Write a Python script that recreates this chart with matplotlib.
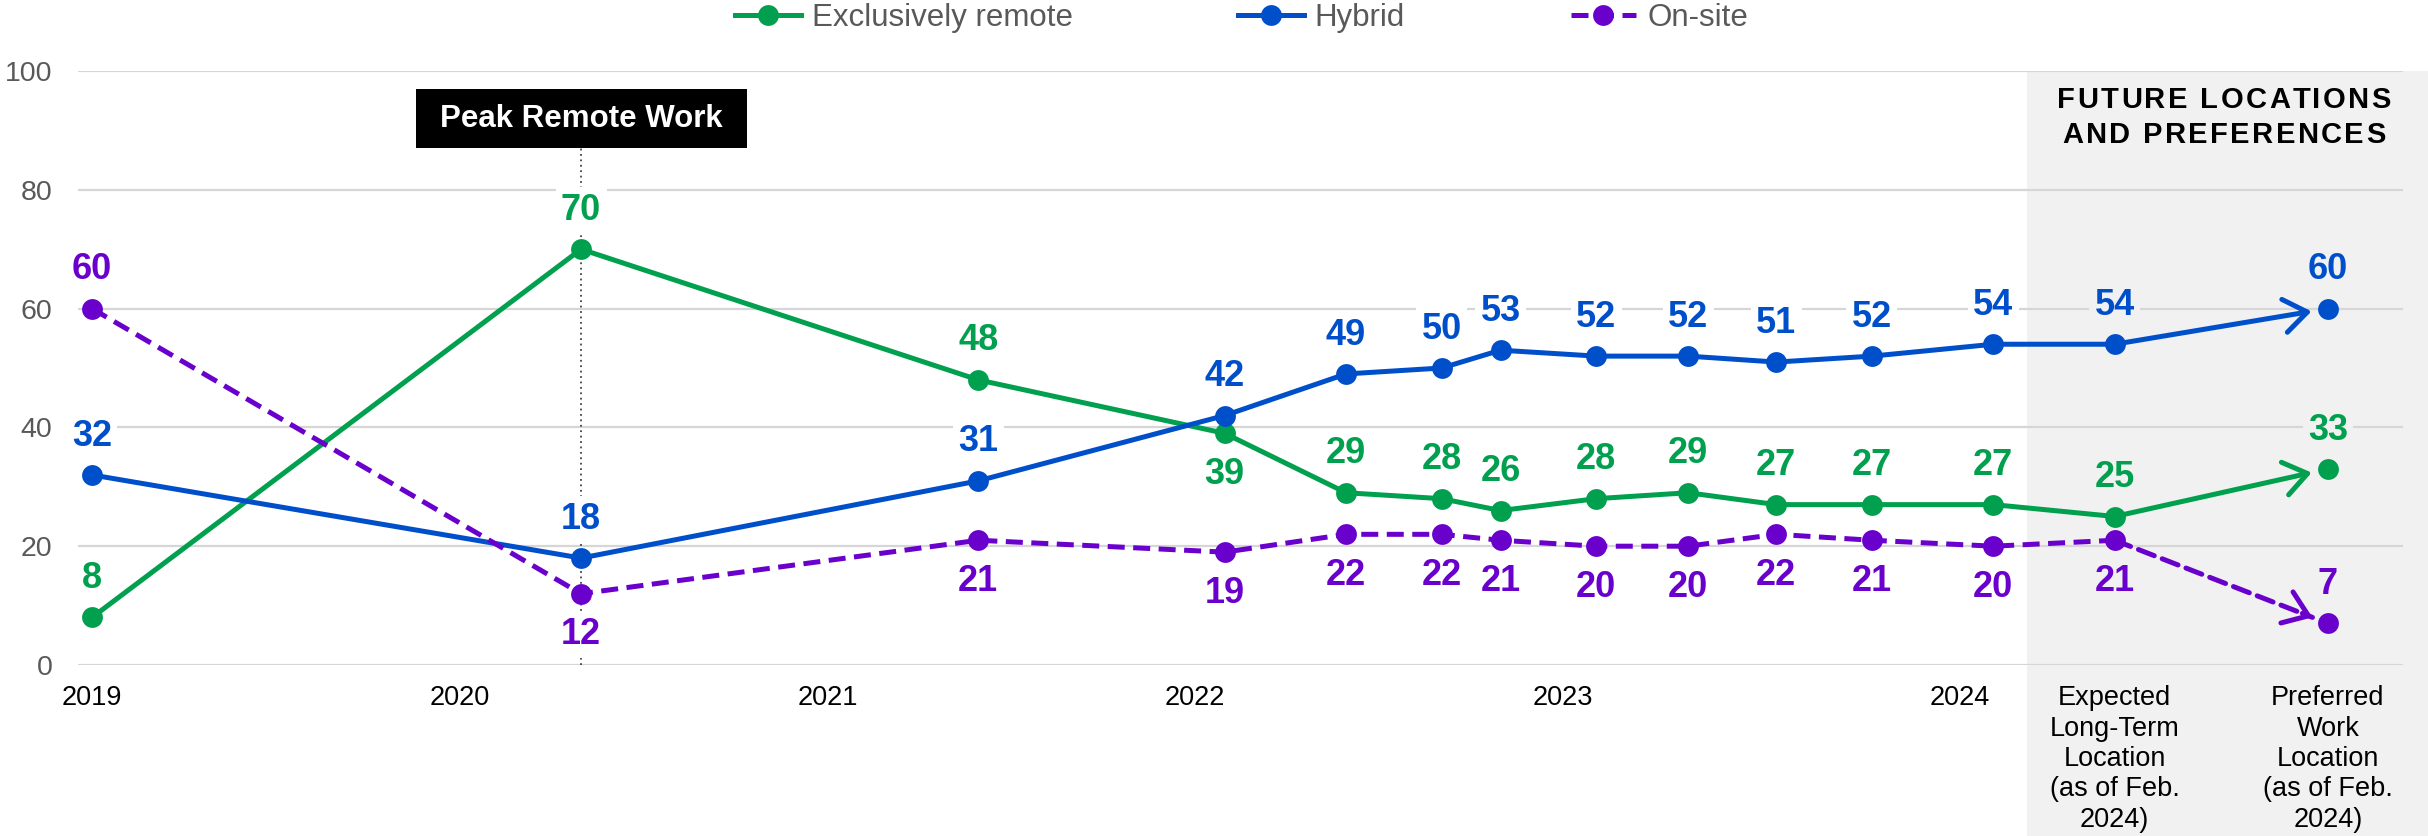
import matplotlib
matplotlib.use("Agg")
import matplotlib.pyplot as plt
import matplotlib.transforms as mtransforms
from matplotlib.patches import Rectangle
from matplotlib.font_manager import FontProperties, findfont, get_font

plt.rcParams["font.family"] = ["Liberation Sans", "DejaVu Sans"]

# ---- data -------------------------------------------------------------
# survey dates as fractional years; the last two are the forward-looking
# questions (expected long-term location, preferred location)
x_pos = [2019.0, 2020.33, 2021.41, 2022.08, 2022.41, 2022.67, 2022.83,
         2023.09, 2023.34, 2023.58, 2023.84, 2024.17, 2024.50, 2025.08]
remote = [8, 70, 48, 39, 29, 28, 26, 28, 29, 27, 27, 27, 25, 33]
hybrid = [32, 18, 31, 42, 49, 50, 53, 52, 52, 51, 52, 54, 54, 60]
onsite = [60, 12, 21, 19, 22, 22, 21, 20, 20, 22, 21, 20, 21, 7]
series_names = ["Exclusively remote", "Hybrid", "On-site"]

# which side of each point its value label sits on
remote_side = ["above"] * 3 + ["below"] + ["above"] * 10
hybrid_side = ["above"] * 14
onsite_side = ["above"] + ["below"] * 12 + ["above"]

tick_pos = [2019, 2020, 2021, 2022, 2023, 2024.08, 2024.50, 2025.08]
tick_labels = ["2019", "2020", "2021", "2022", "2023", "2024",
               "Expected\nLong-Term\nLocation\n(as of Feb.\n2024)",
               "Preferred\nWork\nLocation\n(as of Feb.\n2024)"]
y_ticks = [0, 20, 40, 60, 80, 100]

peak_label = "Peak Remote Work"
future_title = ["FUTURE LOCATIONS", "AND PREFERENCES"]

# ---- styling ----------------------------------------------------------
GREEN = "#00A04F"
BLUE = "#004FCA"
PURPLE = "#6A00CC"
SHADE = "#f1f1f1"
GRID = "#d6d6d6"
TICK_GRAY = "#595959"
SHADE_START = 2024.262

W_PX, H_PX = 2428, 836
fig = plt.figure(figsize=(W_PX / 100, H_PX / 100), dpi=100)
ax = fig.add_axes([78 / W_PX, 171 / H_PX, 2325 / W_PX, 594 / H_PX])
ax.set_xlim(2018.962, 2025.284)
ax.set_ylim(0, 100)

for s in ax.spines.values():
    s.set_visible(False)
ax.set_axisbelow(True)
ax.grid(axis="y", color=GRID, lw=1.6)
ax.grid(axis="x", visible=False)

# shaded panel for the forward-looking questions (runs to the figure edge)
trans_xdata = mtransforms.blended_transform_factory(ax.transData, ax.transAxes)
ax.add_patch(Rectangle((SHADE_START, -0.32), 2025.40 - SHADE_START, 1.32,
                       transform=trans_xdata, facecolor=SHADE,
                       edgecolor="none", zorder=0.2, clip_on=False))

# ticks
ax.set_yticks(y_ticks)
ax.tick_params(axis="y", length=0, pad=18.5, labelsize=20.5,
               labelcolor=TICK_GRAY)
ax.set_xticks(tick_pos, tick_labels)
ax.tick_params(axis="x", length=0, pad=14.5, labelsize=19.5, labelcolor="black")
for lbl in ax.get_xticklabels():
    lbl.set_linespacing(1.22)
    lbl.set_multialignment("center")

LW = 3.6
MS = 15
DASH = (0, (3.4, 1.7))
HEAD = "->,head_length=0.83,head_width=0.6"


def draw_arrow(x0, y0, x1, y1, color, dashed):
    if dashed:
        ax.annotate("", xy=(x1, y1), xytext=(x0, y0), zorder=3,
                    arrowprops=dict(arrowstyle="-", color=color, lw=LW,
                                    ls=DASH, shrinkA=0, shrinkB=12))
        xm = x0 + 0.88 * (x1 - x0)
        ym = y0 + 0.88 * (y1 - y0)
        ax.annotate("", xy=(x1, y1), xytext=(xm, ym), zorder=3,
                    arrowprops=dict(arrowstyle=HEAD, color=color, lw=LW,
                                    shrinkA=0, shrinkB=12, mutation_scale=20,
                                    capstyle="round", joinstyle="round"))
    else:
        ax.annotate("", xy=(x1, y1), xytext=(x0, y0), zorder=3,
                    arrowprops=dict(arrowstyle=HEAD, color=color, lw=LW,
                                    shrinkA=0, shrinkB=12, mutation_scale=20,
                                    capstyle="round", joinstyle="round"))


handles = []
for vals, sides, color, dashed, name in [
        (remote, remote_side, GREEN, False, series_names[0]),
        (hybrid, hybrid_side, BLUE, False, series_names[1]),
        (onsite, onsite_side, PURPLE, True, series_names[2])]:
    ls = DASH if dashed else "-"
    line, = ax.plot(x_pos[:-1], vals[:-1], color=color, lw=LW, ls=ls,
                    marker="o", ms=MS, mew=0, zorder=3, label=name)
    ax.plot(x_pos[-1:], vals[-1:], ls="none", marker="o", ms=MS, mew=0,
            color=color, zorder=3)
    draw_arrow(x_pos[-2], vals[-2], x_pos[-1], vals[-1], color, dashed)
    handles.append(line)

    for x, v, side in zip(x_pos, vals, sides):
        dy = 28 if side == "above" else -29.5
        bg = SHADE if x > SHADE_START else "white"
        ax.annotate(str(v), (x, v), xytext=(0, dy), textcoords="offset points",
                    ha="center", va="center", fontsize=26, fontweight="bold",
                    color=color, zorder=2,
                    bbox=dict(boxstyle="square,pad=0.15", fc=bg, ec="none"))

# peak marker: dotted guide and black tag
peak_x = x_pos[1]
ax.plot([peak_x, peak_x], [0, 87], ls=(0, (1, 2)), color="#444444", lw=1.3,
        zorder=1.5)
ax.add_patch(Rectangle((peak_x - 0.45, 87), 0.9, 10, facecolor="black",
                       edgecolor="none", zorder=4))
ax.text(peak_x, 92, peak_label, ha="center", va="center", color="white",
        fontsize=22.5, fontweight="bold", zorder=5)


# letter-spaced heading over the shaded panel
def tracked_text(cx_px, baseline_px, s, size_pt, tracking_px):
    fp = FontProperties(family="Liberation Sans", weight="bold", size=size_pt)
    font = get_font(findfont(fp))
    font.set_size(size_pt, fig.dpi)
    advs = [font.load_char(ord(c)).linearHoriAdvance / 65536 for c in s]
    total = sum(advs) + tracking_px * (len(s) - 1)
    x = cx_px - total / 2
    for c, a in zip(s, advs):
        fig.text(x / W_PX, 1 - baseline_px / H_PX, c, fontproperties=fp,
                 ha="left", va="baseline", color="black")
        x += a + tracking_px


tracked_text(2224, 108, future_title[0], 21, 2.4)
tracked_text(2224, 143, future_title[1], 21, 2.4)

# legend across the top
fig.legend(handles=handles, labels=series_names, loc="center",
           bbox_to_anchor=(1241.5 / W_PX, 1 - 18 / H_PX), ncol=3,
           frameon=False, fontsize=22.5, handlelength=2.1,
           handletextpad=0.35, columnspacing=5.3, labelcolor=TICK_GRAY,
           borderaxespad=0, borderpad=0)

fig.savefig("out.png", dpi=100)
